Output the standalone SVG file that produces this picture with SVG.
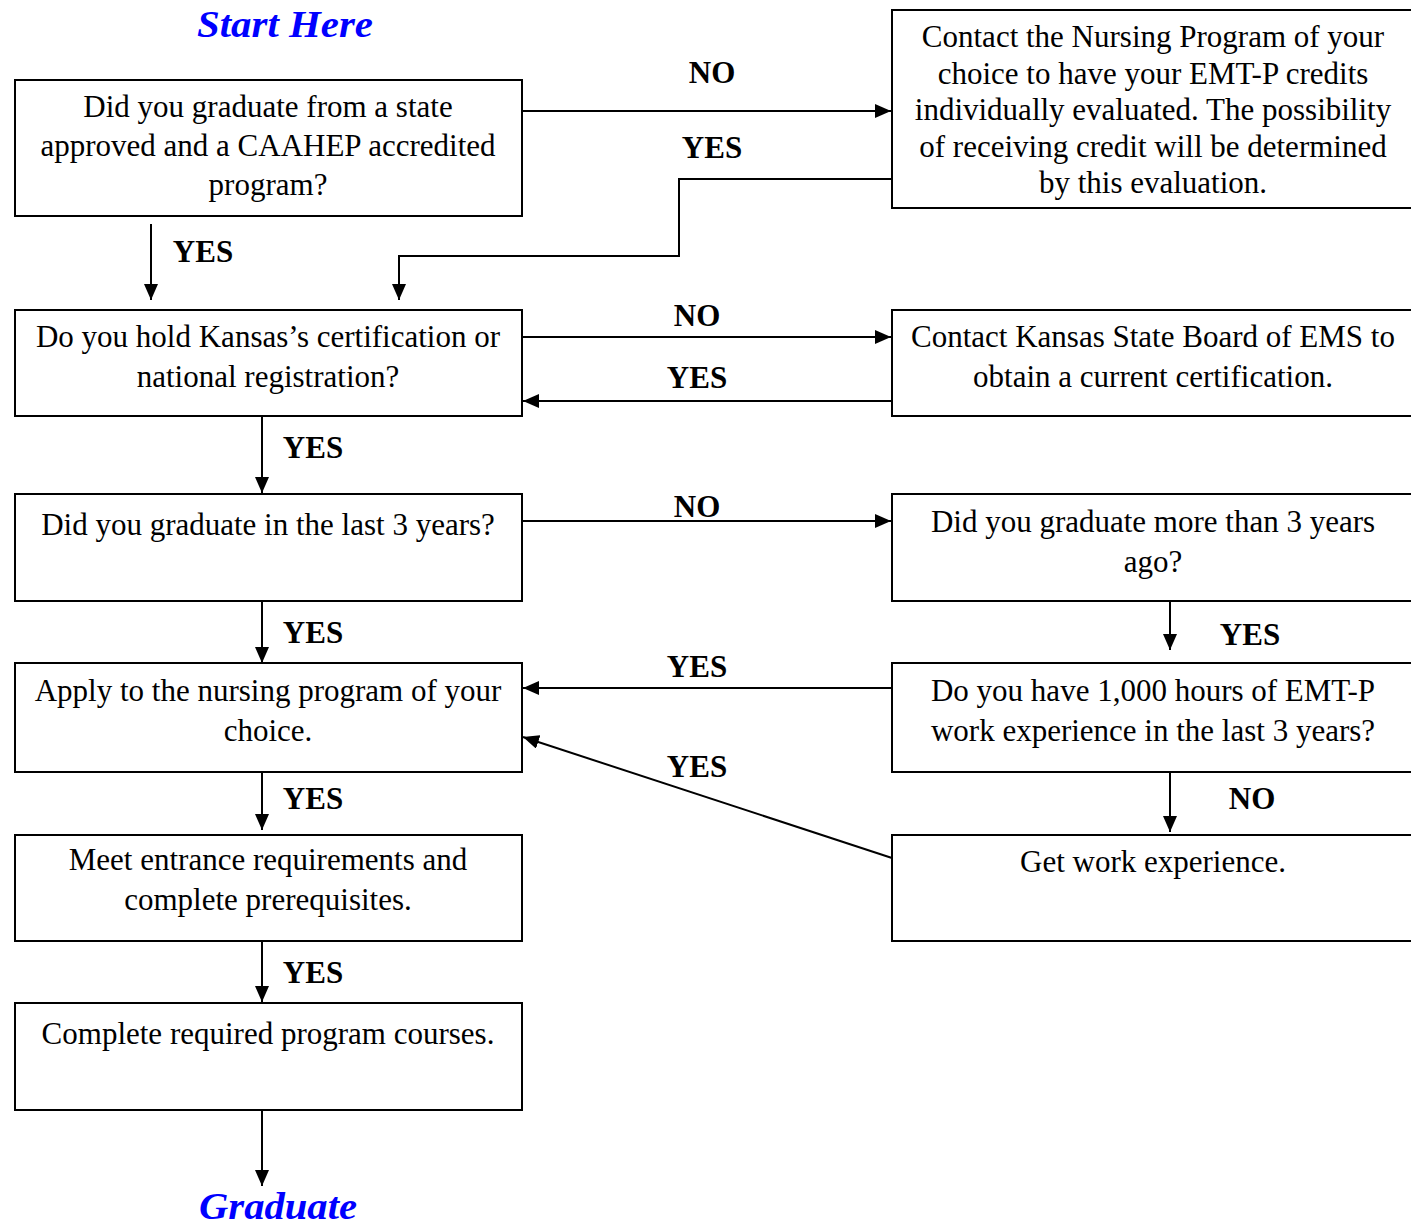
<svg xmlns="http://www.w3.org/2000/svg" width="1411" height="1225" viewBox="0 0 1411 1225">
<style>
.box{fill:#fff;stroke:#000;stroke-width:2}
.t{font-family:"Liberation Serif","Times New Roman",serif;font-size:31px;fill:#000;text-anchor:middle}
.l{font-family:"Liberation Serif","Times New Roman",serif;font-size:31px;font-weight:bold;fill:#000;text-anchor:middle}
.h{font-family:"Liberation Serif","Times New Roman",serif;font-size:37px;font-weight:bold;font-style:italic;fill:#0000ff;text-anchor:middle}
.c{fill:none;stroke:#000;stroke-width:2}
</style>
<defs>
<marker id="ah" viewBox="0 0 16 14" refX="16" refY="7" markerWidth="8" markerHeight="7" markerUnits="strokeWidth" orient="auto">
<path d="M0,0 L16,7 L0,14 z" fill="#000"/>
</marker>
</defs>
<rect width="1411" height="1225" fill="#fff"/>
<text class="h" x="285" y="37" textLength="176" lengthAdjust="spacingAndGlyphs">Start Here</text>
<text class="h" x="278" y="1219" textLength="158" lengthAdjust="spacingAndGlyphs">Graduate</text>

<g id="n1"><rect class="box" x="15" y="80" width="507" height="136"/>
<text class="t" x="268" y="117">Did you graduate from a state</text>
<text class="t" x="268" y="156">approved and a CAAHEP accredited</text>
<text class="t" x="268" y="195">program?</text></g>

<g id="n2"><rect class="box" x="892" y="10" width="525" height="198"/>
<text class="t" x="1153" y="47">Contact the Nursing Program of your</text>
<text class="t" x="1153" y="84">choice to have your EMT-P credits</text>
<text class="t" x="1153" y="120">individually evaluated.  The possibility</text>
<text class="t" x="1153" y="157">of receiving credit will be determined</text>
<text class="t" x="1153" y="193">by this evaluation.</text></g>

<g id="n3"><rect class="box" x="15" y="310" width="507" height="106"/>
<text class="t" x="268" y="347">Do you hold Kansas’s certification or</text>
<text class="t" x="268" y="387">national registration?</text></g>

<g id="n4"><rect class="box" x="892" y="310" width="525" height="106"/>
<text class="t" x="1153" y="347">Contact Kansas State Board of EMS to</text>
<text class="t" x="1153" y="387">obtain a current certification.</text></g>

<g id="n5"><rect class="box" x="15" y="494" width="507" height="107"/>
<text class="t" x="268" y="535">Did you graduate in the last 3 years?</text></g>

<g id="n6"><rect class="box" x="892" y="494" width="525" height="107"/>
<text class="t" x="1153" y="532">Did you graduate more than 3 years</text>
<text class="t" x="1153" y="572">ago?</text></g>

<g id="n7"><rect class="box" x="15" y="663" width="507" height="109"/>
<text class="t" x="268" y="701">Apply to the nursing program of your</text>
<text class="t" x="268" y="741">choice.</text></g>

<g id="n8"><rect class="box" x="892" y="663" width="525" height="109"/>
<text class="t" x="1153" y="701">Do you have 1,000 hours of EMT-P</text>
<text class="t" x="1153" y="741">work experience in the last 3 years?</text></g>

<g id="n9"><rect class="box" x="15" y="835" width="507" height="106"/>
<text class="t" x="268" y="870">Meet entrance requirements and</text>
<text class="t" x="268" y="910">complete prerequisites.</text></g>

<g id="n10"><rect class="box" x="892" y="835" width="525" height="106"/>
<text class="t" x="1153" y="872">Get work experience.</text></g>

<g id="n11"><rect class="box" x="15" y="1003" width="507" height="107"/>
<text class="t" x="268" y="1044">Complete required program courses.</text></g>

<g id="connectors">
<line class="c" x1="522" y1="111" x2="891" y2="111" marker-end="url(#ah)"/>
<polyline class="c" points="892,179 679,179 679,256 399,256 399,300" marker-end="url(#ah)"/>
<line class="c" x1="151" y1="224" x2="151" y2="300" marker-end="url(#ah)"/>
<line class="c" x1="522" y1="337" x2="891" y2="337" marker-end="url(#ah)"/>
<line class="c" x1="892" y1="401" x2="523" y2="401" marker-end="url(#ah)"/>
<line class="c" x1="262" y1="416" x2="262" y2="493" marker-end="url(#ah)"/>
<line class="c" x1="522" y1="521" x2="891" y2="521" marker-end="url(#ah)"/>
<line class="c" x1="1170" y1="601" x2="1170" y2="650" marker-end="url(#ah)"/>
<line class="c" x1="262" y1="601" x2="262" y2="663" marker-end="url(#ah)"/>
<line class="c" x1="892" y1="688" x2="523" y2="688" marker-end="url(#ah)"/>
<line class="c" x1="892" y1="858" x2="523" y2="737" marker-end="url(#ah)"/>
<line class="c" x1="1170" y1="772" x2="1170" y2="832" marker-end="url(#ah)"/>
<line class="c" x1="262" y1="772" x2="262" y2="830" marker-end="url(#ah)"/>
<line class="c" x1="262" y1="941" x2="262" y2="1002" marker-end="url(#ah)"/>
<line class="c" x1="262" y1="1110" x2="262" y2="1186" marker-end="url(#ah)"/>
<text class="l" x="712" y="83">NO</text>
<text class="l" x="712" y="158">YES</text>
<text class="l" x="203" y="262">YES</text>
<text class="l" x="697" y="326">NO</text>
<text class="l" x="697" y="388">YES</text>
<text class="l" x="313" y="458">YES</text>
<text class="l" x="697" y="517">NO</text>
<text class="l" x="313" y="643">YES</text>
<text class="l" x="1250" y="645">YES</text>
<text class="l" x="697" y="677">YES</text>
<text class="l" x="697" y="777">YES</text>
<text class="l" x="1252" y="809">NO</text>
<text class="l" x="313" y="809">YES</text>
<text class="l" x="313" y="983">YES</text>
</g>
</svg>
